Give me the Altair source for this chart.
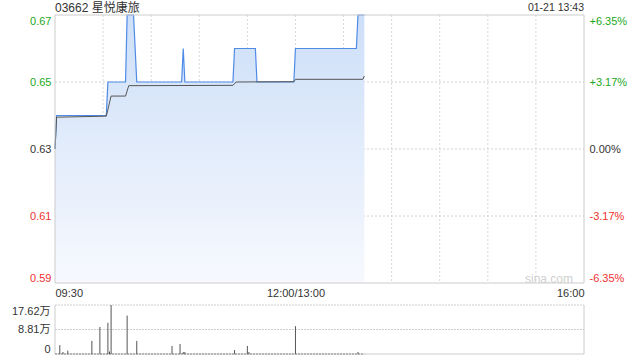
import altair as alt
import pandas as pd

# ---------------- data ----------------
title_text = "03662 星悦康旅"
stamp_text = "01-21 13:43"
prev_close = 0.63

price_minutes = [0, 1, 32, 33, 44, 45, 49, 51, 79, 80, 81, 111, 112, 125, 126, 149, 150, 188, 189, 193]
price_values = [0.63, 0.64, 0.64, 0.65, 0.65, 0.67, 0.67, 0.65, 0.65, 0.66, 0.65, 0.65, 0.66, 0.66, 0.65,
                0.65, 0.66, 0.66, 0.67, 0.67]

avg_minutes = [0, 1, 32, 35, 44, 46, 111, 113, 149, 150, 192, 193]
avg_values = [0.63, 0.6395, 0.6398, 0.6458, 0.6458, 0.6489, 0.6490, 0.6500, 0.6501, 0.6508, 0.6508, 0.6518]

vol_minutes = [3, 5, 8, 23, 28, 33, 34, 35, 45, 51, 73, 78, 80, 81, 112, 120, 121, 150, 189]
vol_values = [32000, 7000, 12000, 47000, 97000, 112000, 9000, 176200, 138000, 47000, 29000, 36000,
              7000, 7000, 14000, 29000, 7000, 100000, 7000]

grid_minutes = [30, 60, 90, 120, 150, 180, 210, 240, 270, 300]
price_ticks = [0.59, 0.61, 0.63, 0.65, 0.67]
price_grid = [0.61, 0.63, 0.65]
vol_ticks = [0, 88100, 176200]
time_ticks = [0, 150, 330]
time_labels = ["09:30", "12:00/13:00", "16:00"]

# ---------------- layout ----------------
W, H = 529, 339
PH = 268          # price panel height
VT, VB = 290, 339  # volume panel top / bottom
GREEN = "#22a822"
RED = "#f03030"
FONT = "Liberation Sans"

price_df = pd.DataFrame({"m": price_minutes, "p": price_values})
avg_df = pd.DataFrame({"m": avg_minutes, "p": avg_values})
vol_df = pd.DataFrame({"m": vol_minutes, "v": vol_values})
one = pd.DataFrame({"a": [0]})

xs = alt.Scale(domain=[0, 330], nice=False, zero=False)
ps = alt.Scale(domain=[0.59, 0.67], range=[PH, 0], nice=False, zero=False)
vs = alt.Scale(domain=[0, 176200], range=[VB, VT], nice=False, zero=False)

time_expr = "datum.value == {0} ? '{1}' : (datum.value == {2} ? '{3}' : '{4}')".format(
    time_ticks[0], time_labels[0], time_ticks[1], time_labels[1], time_labels[2])
xax = alt.Axis(values=time_ticks, labelExpr=time_expr, labelFlush=True, offset=-(H - PH),
               domain=False, ticks=False, grid=False, title=None, labelPadding=4,
               labelFont=FONT, labelFontSize=11, labelColor="#333")

color_cond = {"condition": [{"test": "datum.value > %f" % (prev_close + 0.0005), "value": GREEN},
                            {"test": "datum.value < %f" % (prev_close - 0.0005), "value": RED}],
              "value": "#333"}

left_ax = alt.Axis(values=price_ticks, labelFlush=True, domain=False, ticks=False, grid=False,
                   title=None, labelPadding=4, labelFont=FONT, labelFontSize=11,
                   labelColor=color_cond, format=".2f")
pct_expr = ("(datum.value > %f ? '+' : '') + replace(format((datum.value - %f) / %f * 100, '.2f'), '\u2212', '-') + '%%'"
            % (prev_close + 0.0005, prev_close, prev_close))
right_ax = alt.Axis(values=price_ticks, orient="right", labelFlush=True, domain=False, ticks=False,
                    grid=False, title=None, labelPadding=5, labelFont=FONT, labelFontSize=11,
                    labelColor=color_cond, labelExpr=pct_expr)
vol_ax = alt.Axis(values=vol_ticks, orient="left", labelFlush=True, domain=False, ticks=False,
                  grid=False, title=None, labelPadding=5, labelFont=FONT + ", Noto Sans CJK SC",
                  labelFontSize=11, labelColor="#333",
                  labelExpr="datum.value == 0 ? '0' : format(datum.value / 10000, '.2f') + '万'")

X = alt.X("m:Q", scale=xs, axis=xax)

# grid lines
vgrid = alt.Chart(pd.DataFrame({"m": grid_minutes})).mark_rule(
    color="#d8d8d8", strokeDash=[2, 2], strokeWidth=1).encode(
    x=X, y=alt.value(0), y2=alt.value(PH))
hgrid = alt.Chart(pd.DataFrame({"p": price_grid})).mark_rule(
    color="#d0d0d0", strokeDash=[2, 2], strokeWidth=1).encode(
    y=alt.Y("p:Q", scale=ps, axis=None), x=alt.value(0), x2=alt.value(W))

area = alt.Chart(price_df).mark_area(
    line=False, interpolate="linear",
    color=alt.Gradient(gradient="linear",
                       stops=[alt.GradientStop(color="#cddff8", offset=0),
                              alt.GradientStop(color="#f7f9fe", offset=1)],
                       x1=1, x2=1, y1=0, y2=1)).encode(
    x=X, y=alt.Y("p:Q", scale=ps, axis=left_ax), y2=alt.datum(0.59))

pline = alt.Chart(price_df).mark_line(color="#4f8be6", strokeWidth=1.2).encode(
    x=X, y=alt.Y("p:Q", scale=ps, axis=right_ax))

aline = alt.Chart(avg_df).mark_line(color="#555555", strokeWidth=1).encode(
    x=X, y=alt.Y("p:Q", scale=ps, axis=None))

# panel borders
pborder = alt.Chart(one).mark_rect(fillOpacity=0, stroke="#cccccc", strokeWidth=1).encode(
    x=alt.value(0), x2=alt.value(W), y=alt.value(0), y2=alt.value(PH))
vsides = alt.Chart(one).mark_rule(color="#cccccc", strokeWidth=1).encode(
    x=alt.value(0), y=alt.value(VT), y2=alt.value(VB))
vsides2 = alt.Chart(one).mark_rule(color="#cccccc", strokeWidth=1).encode(
    x=alt.value(W), y=alt.value(VT), y2=alt.value(VB))
vbottom = alt.Chart(one).mark_rule(color="#cccccc", strokeWidth=1).encode(
    x=alt.value(0), x2=alt.value(W), y=alt.value(VB))
vgrid2 = alt.Chart(pd.DataFrame({"v": vol_ticks[1:]})).mark_rule(
    color="#cccccc", strokeDash=[2, 1], strokeWidth=1).encode(
    y=alt.Y("v:Q", scale=vs, axis=None), x=alt.value(0), x2=alt.value(W))

vbase = alt.Chart(pd.DataFrame({"m": [0, 193]})).mark_line(
    color="#888888", strokeDash=[2, 1], strokeWidth=1).encode(
    x=X, y=alt.datum(0, scale=vs, axis=None))

vbars = alt.Chart(vol_df).mark_rule(color="#555555", strokeWidth=1).encode(
    x=X, y=alt.Y("v:Q", scale=vs, axis=vol_ax), y2=alt.datum(0))

title = alt.Chart(pd.DataFrame({"t": [title_text]})).mark_text(
    align="left", baseline="middle", font=FONT + ", Noto Sans CJK SC", fontSize=12,
    color="#333333").encode(x=alt.value(0), y=alt.value(-7), text="t:N")
stamp = alt.Chart(pd.DataFrame({"t": [stamp_text]})).mark_text(
    align="right", baseline="middle", font=FONT, fontSize=10.5, color="#333333").encode(
    x=alt.value(W), y=alt.value(-7), text="t:N")
mark = alt.Chart(pd.DataFrame({"t": ["sina.com"]})).mark_text(
    align="right", baseline="middle", font=FONT, fontSize=12, color="#cfcfcf").encode(
    x=alt.value(518), y=alt.value(264), text="t:N")

chart = alt.layer(
    vgrid, hgrid, area, pline, aline, pborder, vgrid2, vsides, vsides2, vbottom, vbase, vbars,
    title, stamp, mark
).resolve_scale(y="independent").properties(
    width=W, height=H,
    autosize=alt.AutoSizeParams(type="none"),
    padding={"left": 55, "top": 15, "right": 56, "bottom": 6},
    background="white",
).configure_view(strokeWidth=0)

chart.save("out.html", embed_options={"renderer": "svg", "actions": False})
